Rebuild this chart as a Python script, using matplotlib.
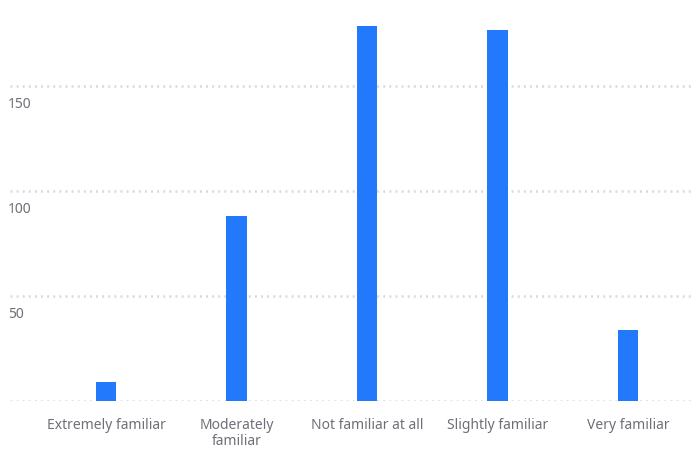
import matplotlib.pyplot as plt
from matplotlib.transforms import offset_copy

# familiarity survey counts
categories = ["Extremely familiar", "Moderately\nfamiliar", "Not familiar at all",
              "Slightly familiar", "Very familiar"]
counts = [9, 88, 178.5, 176.7, 34]
yticks = [0, 50, 100, 150]

plt.rcParams["font.family"] = ["Noto Sans", "DejaVu Sans"]
plt.rcParams["lines.scale_dashes"] = False

fig = plt.figure(figsize=(6.94, 4.53), dpi=100)
ax = fig.add_axes([10 / 694, 52 / 453, 684 / 694, 381 / 453])

x = range(len(categories))
ax.bar(x, counts, width=0.16, color="#2379fb", zorder=3)

# dotted horizontal grid
for v in yticks:
    ax.axhline(v, color="#d8d8de", lw=1.8, ls=(0, (1.4, 3.0)), zorder=1)

ax.set_xlim(-0.736, 4.506)
ax.set_ylim(0, 181.4)

ax.set_xticks(list(x))
ax.set_xticklabels(categories, color="#6e7079", fontsize=10, linespacing=1.15)
ax.tick_params(axis="x", length=0, pad=12)
ax.set_yticks([])

# y labels sit just under each gridline at the left edge
lab_tr = offset_copy(ax.get_yaxis_transform(), fig=fig, x=-2, y=-11, units="dots")
for v in yticks[1:]:
    ax.text(0, v, str(v), transform=lab_tr, ha="left", va="top",
            color="#6e7079", fontsize=10)

for s in ax.spines.values():
    s.set_visible(False)

fig.savefig("out.png", dpi=100)
